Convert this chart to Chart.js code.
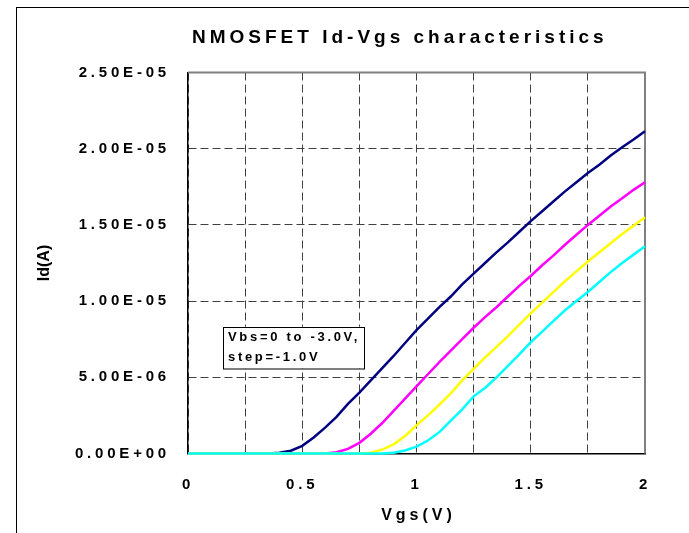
<!DOCTYPE html>
<html>
<head>
<meta charset="utf-8">
<title>NMOSFET Id-Vgs characteristics</title>
<script src="https://cdn.jsdelivr.net/npm/chart.js@4/dist/chart.umd.min.js"></script>
<style>
  html, body { margin: 0; padding: 0; background: #fff; }
  #wrap { position: relative; width: 689px; height: 533px; }
  #wrap canvas { position: absolute; left: 0; top: 0; }
  #frame {
    position: absolute; left: 16px; top: 7px; right: 0; bottom: 0;
    border-left: 1px solid #000; border-top: 1px solid #000;
    pointer-events: none;
  }
</style>
</head>
<body>
<div id="wrap">
  <canvas id="chart" width="689" height="533"></canvas>
  <div id="frame"></div>
</div>
<script>
'use strict';

// gate voltage sweep (V)
const vgs = [
  0, 0.05, 0.1, 0.15, 0.2, 0.25, 0.3, 0.35, 0.4, 0.45,
  0.5, 0.55, 0.6, 0.65, 0.7, 0.75, 0.8, 0.85, 0.9, 0.95,
  1, 1.05, 1.1, 1.15, 1.2, 1.25, 1.3, 1.35, 1.4, 1.45,
  1.5, 1.55, 1.6, 1.65, 1.7, 1.75, 1.8, 1.85, 1.9, 1.95, 2
];

// drain current in uA, one list per body bias
const idVbs0 = [
  0, 0, 0, 0, 0, 0, 0, 0, 0.05, 0.18,
  0.5, 1.05, 1.7, 2.4, 3.25, 4.0, 4.8, 5.6, 6.4, 7.25,
  8.1, 8.85, 9.6, 10.3, 11.1, 11.8, 12.5, 13.2, 13.85, 14.55,
  15.25, 15.9, 16.55, 17.2, 17.8, 18.4, 18.95, 19.55, 20.1, 20.6, 21.15
];
const idVbs1 = [
  0, 0, 0, 0, 0, 0, 0, 0, 0, 0,
  0, 0, 0, 0.08, 0.3, 0.7, 1.3, 2.0, 2.8, 3.6,
  4.4, 5.2, 6.0, 6.75, 7.5, 8.25, 8.95, 9.6, 10.3, 11.0,
  11.65, 12.35, 13.0, 13.7, 14.35, 15.0, 15.6, 16.2, 16.75, 17.3, 17.8
];
const idVbs2 = [
  0, 0, 0, 0, 0, 0, 0, 0, 0, 0,
  0, 0, 0, 0, 0, 0, 0.05, 0.25, 0.6, 1.15,
  1.85, 2.5, 3.2, 3.95, 4.8, 5.55, 6.3, 7.0, 7.7, 8.45,
  9.2, 9.9, 10.6, 11.3, 11.95, 12.6, 13.2, 13.8, 14.4, 14.95, 15.5
];
const idVbs3 = [
  0, 0, 0, 0, 0, 0, 0, 0, 0, 0,
  0, 0, 0, 0, 0, 0, 0, 0, 0.05, 0.2,
  0.45, 0.85, 1.4, 2.15, 2.9, 3.75, 4.3, 5.0, 5.75, 6.5,
  7.3, 8.0, 8.7, 9.4, 10.0, 10.6, 11.25, 11.9, 12.5, 13.05, 13.6
];

const seriesNames = ['Vbs=0', 'Vbs=-1.0V', 'Vbs=-2.0V', 'Vbs=-3.0V'];
const seriesColors = ['#000080', '#FF00FF', '#FFFF00', '#00FFFF'];

const xTickLabels = ['0', '', '0.5', '', '1', '', '1.5', '', '2'];
const yTickLabels = ['0.00E+00', '5.00E-06', '1.00E-05', '1.50E-05', '2.00E-05', '2.50E-05'];

const FONT = 'Liberation Sans, Arial, sans-serif';

function toPoints(ids) {
  return vgs.map((v, i) => ({ x: v, y: ids[i] * 1e-6 }));
}

const datasets = [idVbs0, idVbs1, idVbs2, idVbs3].map((ids, i) => ({
  label: seriesNames[i],
  data: toPoints(ids),
  borderColor: seriesColors[i],
  borderWidth: 2.5,
  pointRadius: 0,
  tension: 0,
  fill: false,
  clip: false,
  order: 4 - i
}));

function spacedText(ctx, text, x, y, spacing, font, align) {
  ctx.save();
  ctx.letterSpacing = spacing + 'px';
  ctx.font = font;
  ctx.fillStyle = '#000';
  ctx.textAlign = align || 'left';
  ctx.textBaseline = 'middle';
  ctx.fillText(text, x, y);
  ctx.restore();
}

const decorPlugin = {
  id: 'decor',
  beforeDraw(chart) {
    // tick labels are letter-spaced in the original
    chart.ctx.letterSpacing = '3.8px';
  },
  beforeDatasetsDraw(chart) {
    const { ctx, chartArea: a } = chart;
    ctx.save();
    ctx.strokeStyle = '#808080';
    ctx.lineWidth = 2;
    ctx.beginPath();
    ctx.moveTo(a.left, a.top);
    ctx.lineTo(a.right, a.top);
    ctx.lineTo(a.right, a.bottom);
    ctx.stroke();
    ctx.restore();
  },
  afterDraw(chart) {
    const { ctx, chartArea: a, scales: { x, y } } = chart;

    spacedText(ctx, 'NMOSFET Id-Vgs characteristics', 192, 38, 4, 'bold 19px ' + FONT);
    spacedText(ctx, 'Vgs(V)', (a.left + a.right) / 2 + 2, 516, 4, 'bold 16px ' + FONT, 'center');

    ctx.save();
    ctx.translate(45, (a.top + a.bottom) / 2);
    ctx.rotate(-Math.PI / 2);
    spacedText(ctx, 'Id(A)', 0, 0, 0, 'bold 16px ' + FONT, 'center');
    ctx.restore();

    // note box
    const bx = x.getPixelForValue(0.153);
    const by = y.getPixelForValue(8.32e-6);
    ctx.save();
    ctx.fillStyle = '#fff';
    ctx.fillRect(bx, by, 141, 41.5);
    ctx.strokeStyle = '#000';
    ctx.lineWidth = 1;
    ctx.strokeRect(Math.round(bx) + 0.5, Math.round(by) + 0.5, 141, 41.5);
    ctx.restore();
    spacedText(ctx, 'Vbs=0 to -3.0V,', bx + 5, by + 11, 2.7, 'bold 13px ' + FONT);
    spacedText(ctx, 'step=-1.0V', bx + 5, by + 31, 2.7, 'bold 13px ' + FONT);
  }
};

new Chart(document.getElementById('chart'), {
  type: 'line',
  data: { datasets },
  options: {
    responsive: false,
    animation: false,
    events: [],
    layout: { padding: { left: 20, right: 44, top: 72.5, bottom: 0 } },
    plugins: {
      legend: { display: false },
      title: { display: false },
      tooltip: { enabled: false }
    },
    scales: {
      x: {
        type: 'linear',
        min: 0,
        max: 2,
        afterFit: scale => { scale.height = 79.5; },
        afterBuildTicks: scale => {
          scale.ticks = xTickLabels.map((_, i) => ({ value: i * 0.25 }));
        },
        ticks: {
          autoSkip: false,
          maxRotation: 0,
          padding: 22,
          color: '#000',
          font: { family: FONT, size: 15, weight: 'bold' },
          callback: (value, index) => xTickLabels[index]
        },
        grid: { color: '#404040', lineWidth: 1, drawTicks: false },
        border: { color: '#000', width: 1.5, dash: [8, 4] }
      },
      y: {
        type: 'linear',
        min: 0,
        max: 2.5e-5,
        afterFit: scale => { scale.width = 168; },
        afterBuildTicks: scale => {
          scale.ticks = yTickLabels.map((_, i) => ({ value: i * 5e-6 }));
        },
        ticks: {
          autoSkip: false,
          padding: 18,
          color: '#000',
          font: { family: FONT, size: 15, weight: 'bold' },
          callback: (value, index) => yTickLabels[index]
        },
        grid: { color: '#404040', lineWidth: 1, drawTicks: false },
        border: { color: '#000', width: 1.5, dash: [8, 4] }
      }
    }
  },
  plugins: [decorPlugin]
});
</script>
</body>
</html>
